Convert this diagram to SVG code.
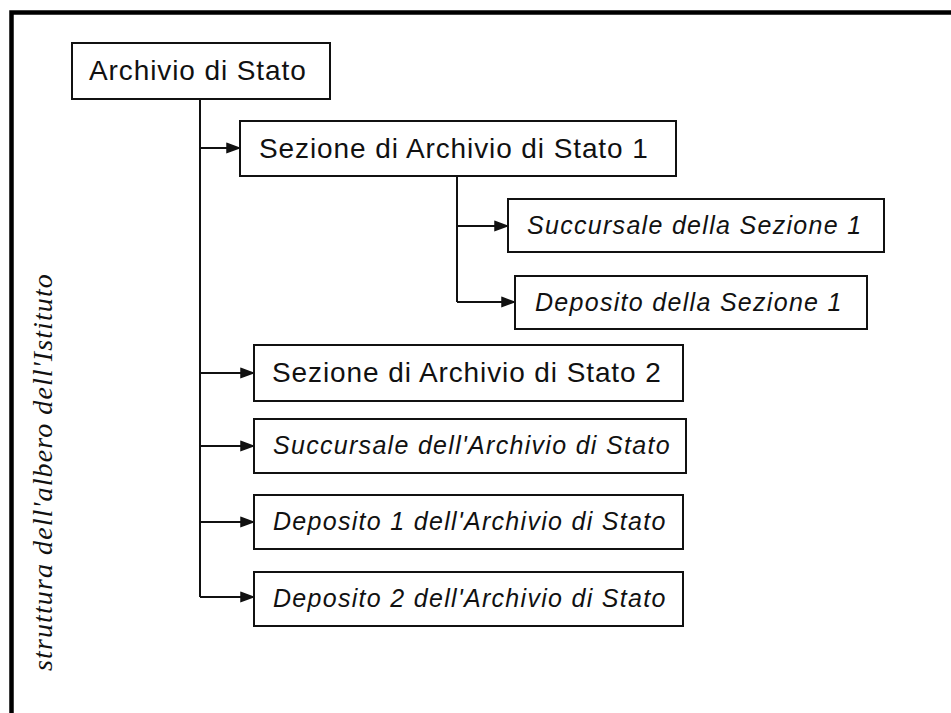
<svg xmlns="http://www.w3.org/2000/svg" width="951" height="713" viewBox="0 0 951 713">
<style>
.box{fill:#fff;stroke:#111;stroke-width:2}
.t{font-family:"Liberation Sans",Arial,sans-serif;font-size:28px;fill:#111;letter-spacing:0.9px}
.ti{font-family:"Liberation Sans",Arial,sans-serif;font-size:25px;font-style:italic;fill:#111;letter-spacing:1.3px}
.c{fill:none;stroke:#111;stroke-width:2}
</style>
<defs>
<marker id="ah" markerWidth="14" markerHeight="12" refX="14" refY="6" orient="auto" markerUnits="userSpaceOnUse">
<path d="M1,1.5 L13,6 L1,10.5 Z" fill="#111" stroke="#111" stroke-width="1.5" stroke-linejoin="miter"/>
</marker>
</defs>
<rect width="951" height="713" fill="#fff"/>
<g id="frame">
<path d="M11.5,713 V12.5 H951" fill="none" stroke="#000" stroke-width="4.5"/>
</g>
<g id="connectors">
<path class="c" d="M200,99 V597"/>
<path class="c" d="M200,148 H240" marker-end="url(#ah)"/>
<path class="c" d="M200,373 H254" marker-end="url(#ah)"/>
<path class="c" d="M200,446 H254" marker-end="url(#ah)"/>
<path class="c" d="M200,522 H254" marker-end="url(#ah)"/>
<path class="c" d="M200,597 H254" marker-end="url(#ah)"/>
<path class="c" d="M457,176 V302"/>
<path class="c" d="M457,226 H508" marker-end="url(#ah)"/>
<path class="c" d="M457,302 H515" marker-end="url(#ah)"/>
</g>
<g id="n-archivio">
<rect class="box" x="72" y="43" width="258" height="56"/>
<text class="t" x="89" y="80">Archivio di Stato</text>
</g>
<g id="n-sezione1">
<rect class="box" x="240" y="121" width="436" height="55"/>
<text class="t" x="259" y="158">Sezione di Archivio di Stato 1</text>
</g>
<g id="n-succ-sez1">
<rect class="box" x="508" y="199" width="376" height="53"/>
<text class="ti" x="527" y="234">Succursale della Sezione 1</text>
</g>
<g id="n-dep-sez1">
<rect class="box" x="515" y="276" width="352" height="53"/>
<text class="ti" x="535" y="311">Deposito della Sezione 1</text>
</g>
<g id="n-sezione2">
<rect class="box" x="254" y="345" width="429" height="56"/>
<text class="t" x="272" y="382">Sezione di Archivio di Stato 2</text>
</g>
<g id="n-succ-as">
<rect class="box" x="254" y="419" width="432" height="54"/>
<text class="ti" x="273" y="454">Succursale dell'Archivio di Stato</text>
</g>
<g id="n-dep1">
<rect class="box" x="254" y="495" width="429" height="54"/>
<text class="ti" x="273" y="530">Deposito 1 dell'Archivio di Stato</text>
</g>
<g id="n-dep2">
<rect class="box" x="254" y="572" width="429" height="54"/>
<text class="ti" x="273" y="607">Deposito 2 dell'Archivio di Stato</text>
</g>
<g id="side-label">
<text transform="translate(52,472) rotate(-90)" text-anchor="middle" font-family="'Liberation Serif','Times New Roman',serif" font-style="italic" font-size="28" fill="#111" letter-spacing="1.1">struttura dell'albero dell'Istituto</text>
</g>
</svg>
